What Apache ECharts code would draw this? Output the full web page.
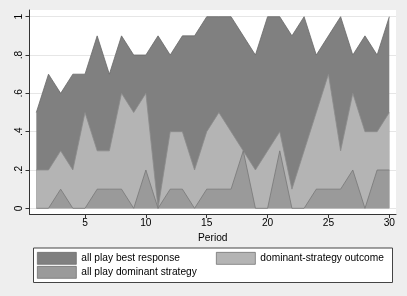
<!DOCTYPE html>
<html><head><meta charset="utf-8">
<script src="https://cdn.jsdelivr.net/npm/echarts@6/dist/echarts.min.js"></script>
<style>html,body{margin:0;padding:0;background:#eeeeee;}#c{width:407px;height:296px;}</style>
</head><body><div id="c"></div>
<script>
const periods = [1,2,3,4,5,6,7,8,9,10,11,12,13,14,15,16,17,18,19,20,21,22,23,24,25,26,27,28,29,30];
const bestResponse = [0.5,0.7,0.6,0.7,0.7,0.9,0.7,0.9,0.8,0.8,0.9,0.8,0.9,0.9,1.0,1.0,1.0,0.9,0.8,1.0,1.0,0.9,1.0,0.8,0.9,1.0,0.8,0.9,0.8,1.0];
const domOutcome = [0.2,0.2,0.3,0.2,0.5,0.3,0.3,0.6,0.5,0.6,0.0,0.4,0.4,0.2,0.4,0.5,0.4,0.3,0.2,0.3,0.4,0.1,0.3,0.5,0.7,0.3,0.6,0.4,0.4,0.5];
const allDominant = [0,0,0.1,0,0,0.1,0.1,0.1,0,0.2,0,0.1,0.1,0,0.1,0.1,0.1,0.3,0,0,0.3,0,0,0.1,0.1,0.1,0.2,0,0.2,0.2];
const xTicks = [5,10,15,20,25,30];
const yTicks = [0,0.2,0.4,0.6,0.8,1];
const yTickLabels = ['0','.2','.4','.6','.8','1'];
const names = ['all play best response','dominant-strategy outcome','all play dominant strategy'];

const FONT = 'Liberation Sans, Arial, sans-serif';
const FS = 10.2;
const pairs = arr => periods.map((p,i)=>[p,arr[i]]);
const chart = echarts.init(document.getElementById('c'), null, {renderer:'canvas'});
function mk(name, data, fill, line){
  return {name, type:'line', data:pairs(data), symbol:'none', showSymbol:false,
    itemStyle:{color:fill}, lineStyle:{color:line,width:0.8},
    areaStyle:{color:fill,opacity:1}, emphasis:{disabled:true}, animation:false};
}
const legendBase = {orient:'horizontal', icon:'rect', itemWidth:39, itemHeight:12, itemGap:6, padding:0,
  textStyle:{fontFamily:FONT,fontSize:FS,color:'#000'}, selectedMode:false,
  itemStyle:{borderColor:'#666',borderWidth:0.7}};
chart.setOption({
  backgroundColor:'#eeeeee',
  animation:false,
  textStyle:{fontFamily:FONT},
  grid:{left:29.5,right:11,top:10,bottom:82,show:true,backgroundColor:'#ffffff',borderWidth:0},
  xAxis:{type:'value',min:0.44,max:30.55,
    name:'Period',nameLocation:'middle',nameGap:18,nameTextStyle:{fontFamily:FONT,fontSize:FS,color:'#000'},
    axisLine:{show:true,onZero:false,lineStyle:{color:'#333',width:1}},
    axisTick:{show:true,length:4,customValues:xTicks,lineStyle:{color:'#333'}},
    axisLabel:{customValues:xTicks,margin:4,fontFamily:FONT,fontSize:FS,color:'#000'},
    splitLine:{show:false}},
  yAxis:{type:'value',min:-0.0297,max:1.035,
    axisLine:{show:true,onZero:false,lineStyle:{color:'#333',width:1}},
    axisTick:{show:true,length:4,customValues:yTicks,lineStyle:{color:'#333'}},
    axisLabel:{customValues:yTicks,rotate:90,margin:5,fontFamily:FONT,fontSize:FS,color:'#000',
      formatter:v=>{const i=yTicks.findIndex(t=>Math.abs(t-v)<1e-6);return i>=0?yTickLabels[i]:'';}},
    splitLine:{show:true,customValues:yTicks,lineStyle:{color:'#e6e6e6',width:1}}},
  graphic:[{type:'rect',shape:{x:33.5,y:248,width:359,height:34.5},style:{fill:'#fff',stroke:'#444',lineWidth:1},z:-1}],
  legend:[
    Object.assign({},legendBase,{data:[names[0]],left:37,top:252}),
    Object.assign({},legendBase,{data:[names[1]],left:216,top:252}),
    Object.assign({},legendBase,{data:[names[2]],left:37,top:266})
  ],
  series:[
    mk(names[0],bestResponse,'#808080','#6a6a6a'),
    mk(names[1],domOutcome,'#b4b4b4','#8c8c8c'),
    mk(names[2],allDominant,'#9a9a9a','#777777')
  ]
});
</script></body></html>
